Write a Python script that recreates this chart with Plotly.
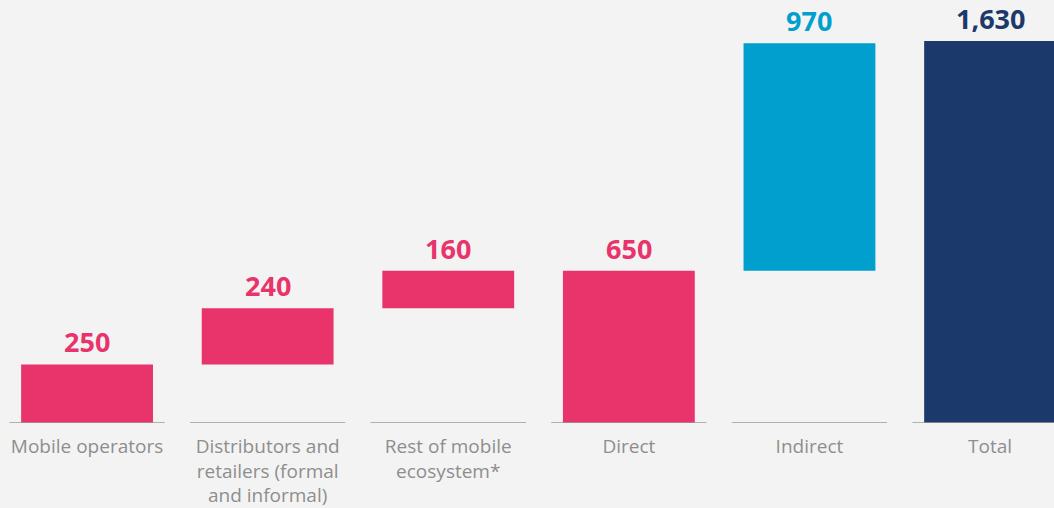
import plotly.graph_objects as go

categories = ["Mobile operators", "Distributors and<br>retailers (formal<br>and informal)",
              "Rest of mobile<br>ecosystem*", "Direct", "Indirect", "Total"]
values = [250, 240, 160, 650, 970, 1630]
kinds = ["relative", "relative", "relative", "total", "relative", "total"]
colors = ["#e8336b", "#e8336b", "#e8336b", "#e8336b", "#009fcd", "#1b3a6b"]

bases = []
running = 0
for v, k in zip(values, kinds):
    if k == "total":
        bases.append(0)
        running = v
    else:
        bases.append(running)
        running += v

x = list(range(len(categories)))

fig = go.Figure()
fig.add_trace(go.Bar(x=x, y=values, base=bases, width=0.73,
                     marker=dict(color=colors, line=dict(width=0)),
                     hoverinfo="skip"))

for i, (v, b, c) in enumerate(zip(values, bases, colors)):
    fig.add_annotation(x=i, y=b + v, text=f"{v:,}", showarrow=False,
                       yanchor="bottom", yshift=2,
                       font=dict(family="Open Sans", size=27, color=c, weight="bold"))
    fig.add_shape(type="line", x0=i - 0.43, x1=i + 0.43, y0=0, y1=0,
                  line=dict(color="#9a9a9a", width=1.5), layer="above")

fig.update_layout(
    width=1054, height=508,
    margin=dict(l=0, r=0, t=0, b=85, autoexpand=False),
    paper_bgcolor="#f3f3f3", plot_bgcolor="#f3f3f3",
    showlegend=False,
    xaxis=dict(range=[-0.482, 5.354], tickvals=x, ticktext=categories,
               showgrid=False, zeroline=False, showline=False, ticks="",
               ticklabelstandoff=10, automargin=False,
               tickfont=dict(family="Open Sans", size=19, color="#8e8e8e"),
               fixedrange=True),
    yaxis=dict(range=[0, 1805], visible=False, fixedrange=True, automargin=False),
)

fig.write_html("out.html", config={"displayModeBar": False},
               post_script="document.body.style.margin='0';document.body.style.background='#f3f3f3';")
